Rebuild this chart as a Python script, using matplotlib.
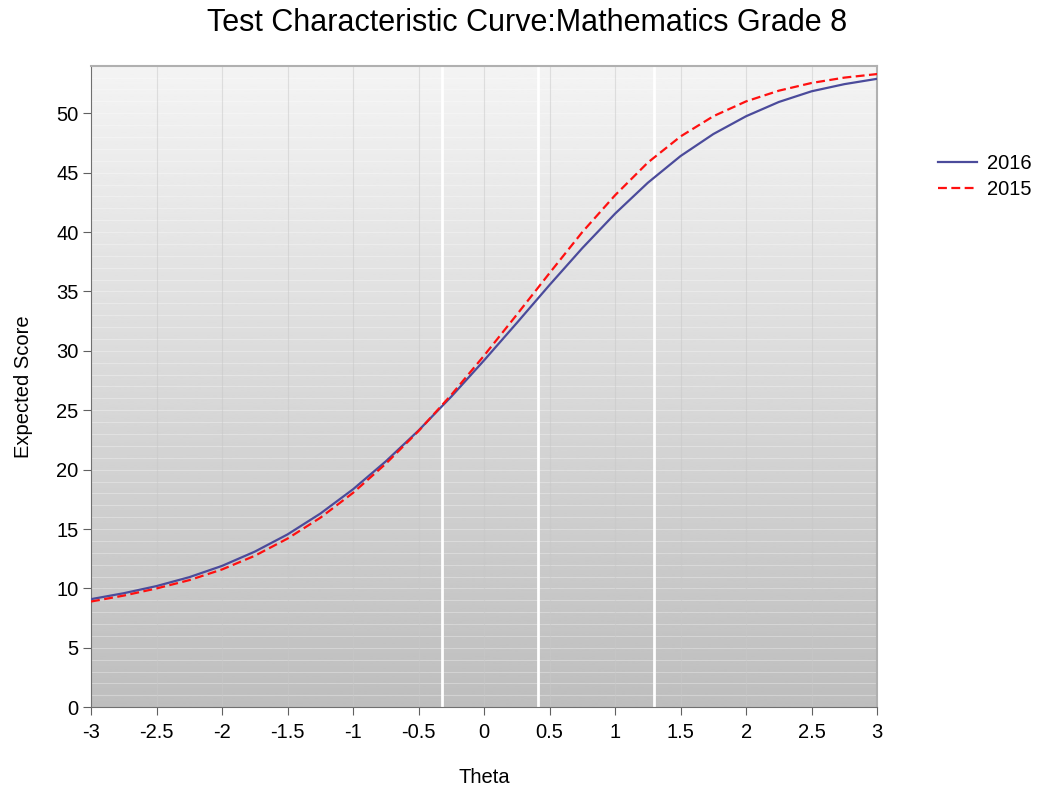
import matplotlib
matplotlib.use("Agg")
import matplotlib.pyplot as plt
import numpy as np

plt.rcParams['font.family'] = ['Liberation Sans', 'DejaVu Sans']

# theta grid and expected scores
theta = [-3.0, -2.75, -2.5, -2.25, -2.0, -1.75, -1.5, -1.25, -1.0, -0.75, -0.5, -0.25,
         0.0, 0.25, 0.5, 0.75, 1.0, 1.25, 1.5, 1.75, 2.0, 2.25, 2.5, 2.75, 3.0]
score_2016 = [9.1, 9.6, 10.2, 10.95, 11.9, 13.1, 14.55, 16.3, 18.35, 20.7, 23.3, 26.15,
              29.2, 32.35, 35.55, 38.65, 41.55, 44.15, 46.4, 48.25, 49.75, 50.95, 51.85, 52.45, 52.9]
score_2015 = [8.9, 9.4, 10.0, 10.7, 11.6, 12.75, 14.2, 15.95, 18.05, 20.5, 23.25, 26.3,
              29.6, 33.05, 36.55, 40.0, 43.1, 45.85, 48.05, 49.75, 51.0, 51.9, 52.55, 53.0, 53.3]
cut_points = [-0.32, 0.415, 1.298]

xticks = [-3, -2.5, -2, -1.5, -1, -0.5, 0, 0.5, 1, 1.5, 2, 2.5, 3]
yticks = [0, 5, 10, 15, 20, 25, 30, 35, 40, 45, 50]

fig = plt.figure(figsize=(10.38, 7.92), dpi=100)
ax = fig.add_axes([0.0877, 0.107, 0.7573, 0.81])

xmin, xmax, ymin, ymax = -3, 3, 0, 54

# vertical gradient background
grad = np.linspace(0.955, 0.745, 256).reshape(-1, 1)
ax.imshow(grad, extent=[xmin, xmax, ymin, ymax], aspect='auto', cmap='gray',
          vmin=0, vmax=1, origin='upper', zorder=0)

# faint minor horizontal lines and vertical grid lines
for yy in range(1, 54):
    ax.axhline(yy, color='white', lw=0.8, alpha=0.3, zorder=1)
for xx in xticks[1:-1]:
    ax.axvline(xx, color='#c8c8c8', lw=0.8, alpha=0.5, zorder=1)

for c in cut_points:
    ax.axvline(c, color='white', lw=2, zorder=2)

ax.plot(theta, score_2016, color='#4b4b9b', lw=1.6, label='2016', zorder=3)
ax.plot(theta, score_2015, color='#ff1010', lw=1.6, ls=(0, (4, 2)), label='2015', zorder=4)

ax.set_xlim(xmin, xmax)
ax.set_ylim(ymin, ymax)
ax.set_xticks(xticks)
ax.set_xticklabels([('%g' % t) for t in xticks])
ax.set_yticks(yticks)
ax.tick_params(axis='both', labelsize=14.5, length=6, color='#606060', direction='out')
ax.tick_params(axis='x', pad=5)
ax.tick_params(axis='y', pad=3)

for s in ['left', 'bottom']:
    ax.spines[s].set_color('#707070')
for s in ['top', 'right']:
    ax.spines[s].set_color('#b0b0b0')
    ax.spines[s].set_linewidth(1.5)

ax.set_xlabel('Theta', fontsize=14.5, labelpad=19)
ax.set_ylabel('Expected Score', fontsize=14.5, labelpad=17)
fig.suptitle('Test Characteristic Curve:Mathematics Grade 8', fontsize=22,
             x=0.508, y=0.99)

ax.legend(loc='upper left', bbox_to_anchor=(1.055, 0.89), frameon=False,
          fontsize=14.5, handlelength=1.9, labelspacing=0.35, handletextpad=0.5)

fig.savefig('out.png', dpi=100)
